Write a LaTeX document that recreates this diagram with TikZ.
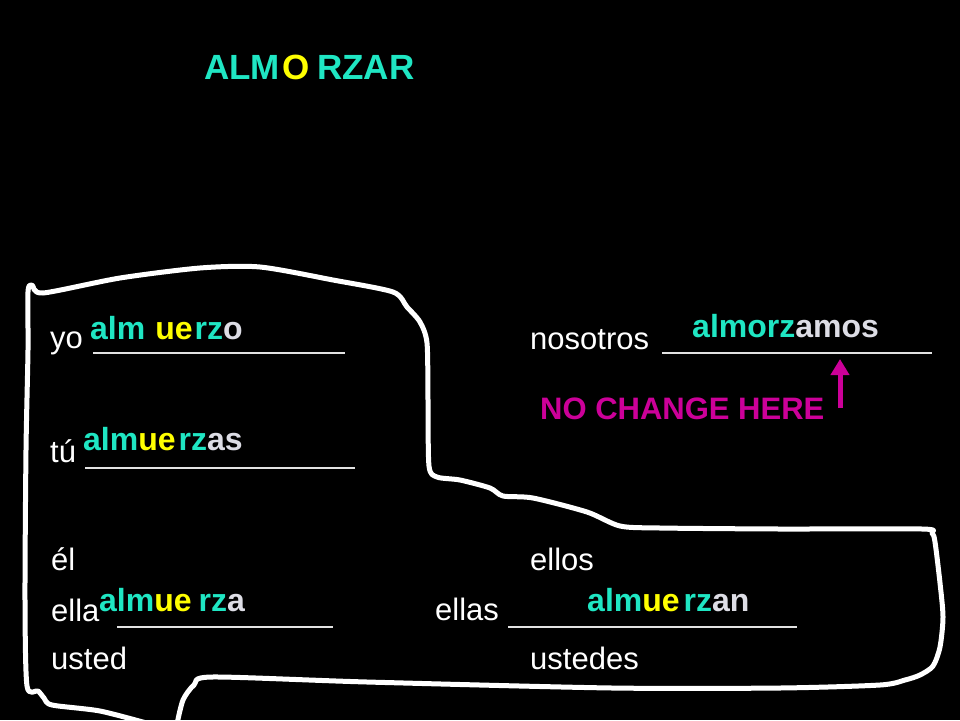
\documentclass[tikz,border=0pt]{standalone}
\usepackage{fontspec}
\setmainfont{Liberation Sans}
\usetikzlibrary{arrows.meta}
\definecolor{turq}{HTML}{1FE6C3}
\definecolor{yel}{HTML}{FFFF00}
\definecolor{endg}{HTML}{DDDDE5}
\definecolor{mag}{HTML}{CC0099}
\definecolor{lineg}{HTML}{E2E2E2}
\newcommand{\colT}[1]{\textcolor{turq}{#1}}
\newcommand{\colY}[1]{\textcolor{yel}{#1}}
\newcommand{\colG}[1]{\textcolor{endg}{#1}}
\tikzset{
 reg/.style={anchor=base west, inner sep=0pt, text=white, font=\fontsize{31}{36}\selectfont},
 ans/.style={anchor=base west, inner sep=0pt, font=\fontsize{32}{38}\selectfont\bfseries},
 ttl/.style={anchor=base west, inner sep=0pt, font=\fontsize{35}{42}\selectfont\bfseries},
 note/.style={anchor=base west, inner sep=0pt, text=mag, font=\fontsize{31}{36}\selectfont\bfseries},
 blank/.style={draw=lineg, line width=2pt},
 outline/.style={draw=white, line width=5pt, line cap=round, line join=round},
 uparrow/.style={draw=mag, line width=5pt, -{Triangle[width=18pt,length=16pt]}},
}
\begin{document}
\begin{tikzpicture}[x=1pt,y=-1pt]
\useasboundingbox (0,0) rectangle (960,720);
\fill[black] (0,0) rectangle (960,720);
\clip (0,0) rectangle (960,720);

% title
\node[ttl, text=turq] (t1) at (204,79) {ALM};
\node[ttl, text=yel] (t2) at (282,79) {O};
\node[ttl, text=turq] (t3) at (317,79) {RZAR};

% hand-drawn outline
\draw[outline] plot[smooth, tension=0.45] coordinates {
 (150,724) (100,711) (52,705) (44,698) (38,691) (27,686)
 (25,600) (26,450) (28,350) (28,292) (32,285) (43,293)
 (120,278) (200,268) (260,267) (333,280) (393,292) (407,307)
 (420,322) (427,343) (428,400) (429,466) (437,477) (460,480)
 (490,488) (503,496) (533,498) (587,512) (620,526) (660,528)
 (780,529) (922,529) (932,533) (935,542) (940,583) (943,617)
 (940,647) (933,666) (920,675) (905,680) (880,685) (780,688)
 (612,688) (367,682) (212,677) (194,685) (183,700) (177,724)};

% left column
\node[reg] (yo) at (50,348) {yo};
\draw[blank] (93,353) -- (345,353);
\node[ans] (yoA) at (90,339) {\colT{alm}\hspace{10pt}\colY{ue}\hspace{2pt}\colT{rz}\colG{o}};

\node[reg] (tu) at (50,462) {tú};
\draw[blank] (85,468) -- (355,468);
\node[ans] (tuA) at (83,450) {\colT{alm}\colY{ue}\hspace{3pt}\colT{rz}\colG{as}};

\node[reg] (el) at (51,570) {él};
\node[reg] (ella) at (51,621) {ella};
\draw[blank] (117,627) -- (333,627);
\node[ans] (ellaA) at (99,611) {\colT{alm}\colY{ue}\hspace{7pt}\colT{rz}\colG{a}};
\node[reg] (usted) at (51,669) {usted};

% right column
\node[reg] (nos) at (530,349) {nosotros};
\draw[blank] (662,353) -- (932,353);
\node[ans] (nosA) at (692,337) {\colT{almorz}\colG{amos}};

\node[note] (nochg) at (540,419) {NO CHANGE HERE};
\coordinate (arB) at (840,408);
\coordinate (arT) at (840,359);
\draw[uparrow] (arB) -- (arT);

\node[reg] (ellos) at (530,570) {ellos};
\node[reg] (ellas) at (435,620) {ellas};
\draw[blank] (508,627) -- (797,627);
\node[ans] (ellasA) at (587,611) {\colT{alm}\colY{ue}\hspace{4pt}\colT{rz}\colG{an}};
\node[reg] (ustedes) at (530,669) {ustedes};
\end{tikzpicture}
\end{document}
